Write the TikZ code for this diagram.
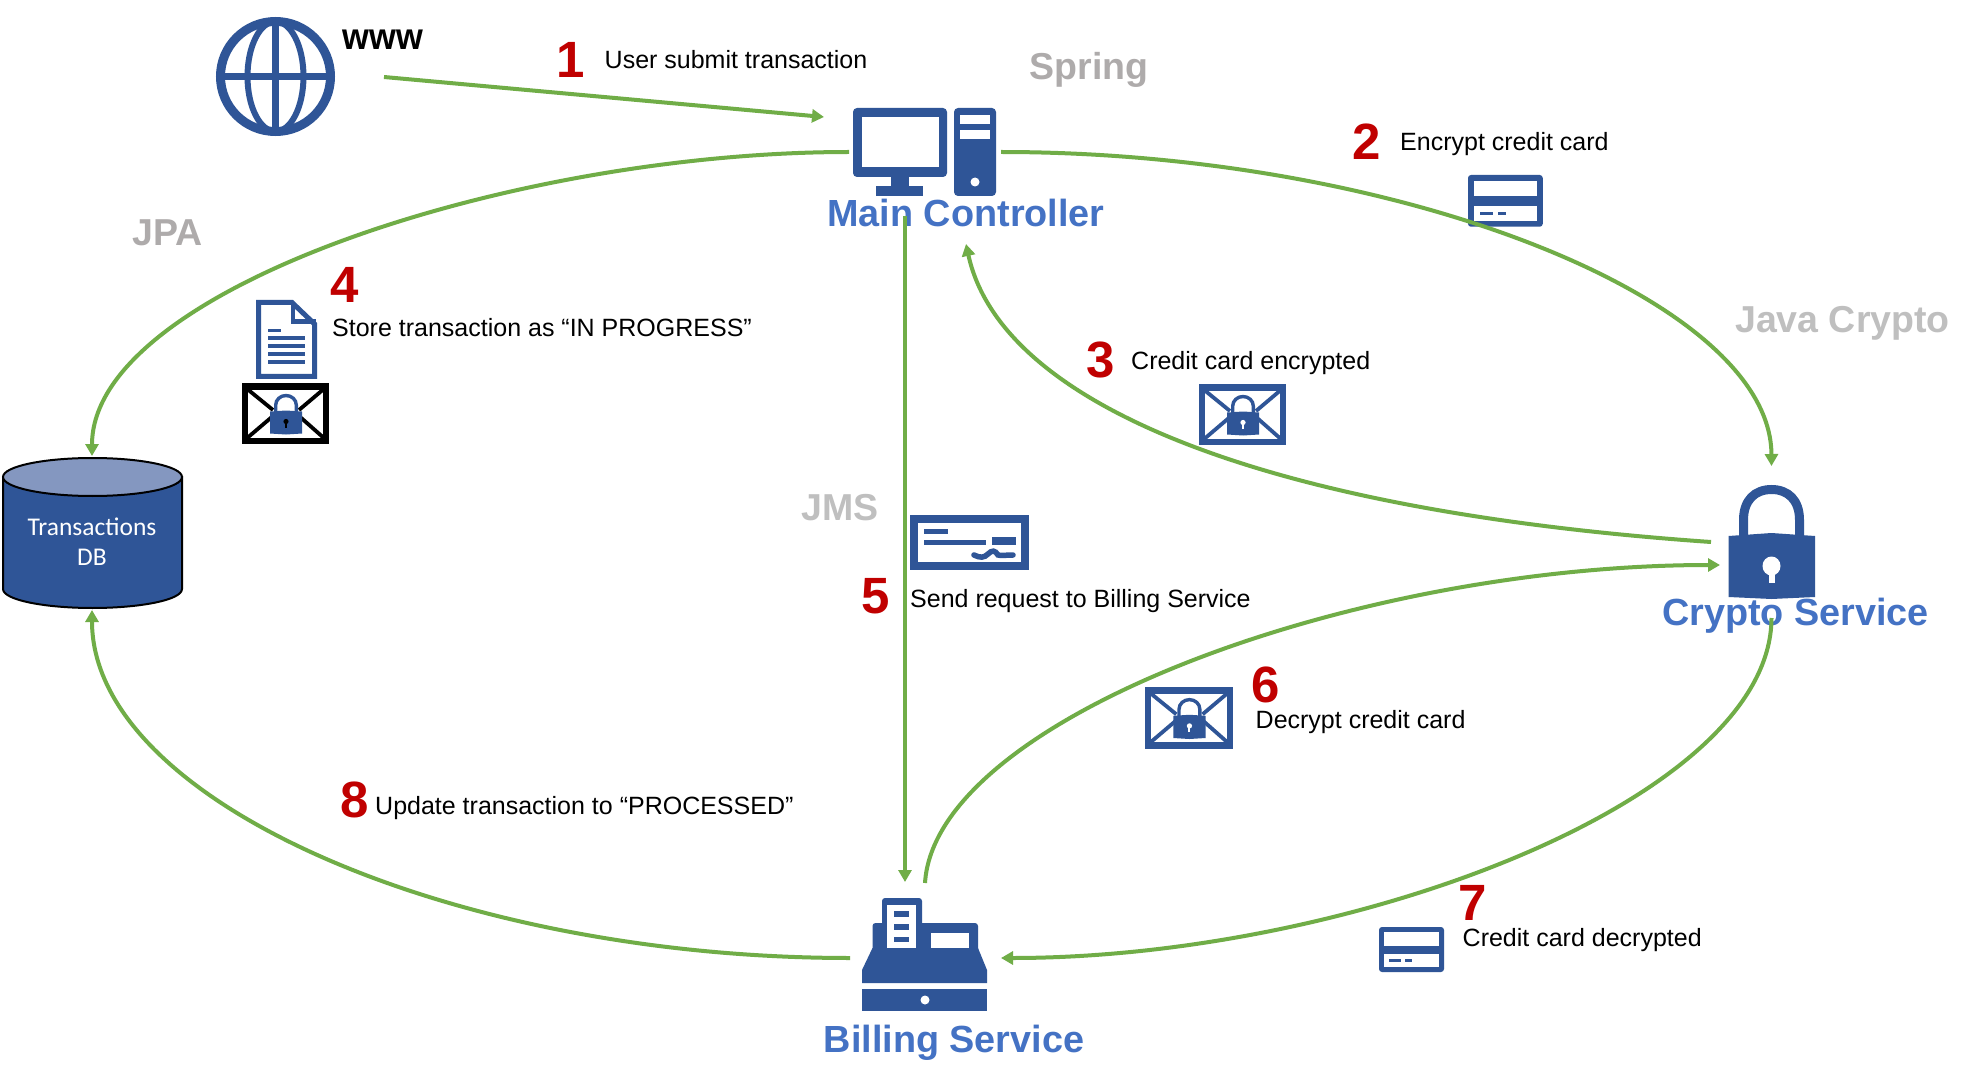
\documentclass[tikz,border=0pt]{standalone}
\usepackage{fontspec}
\setmainfont{Liberation Sans}
\newfontfamily\carl{Carlito}
\usetikzlibrary{arrows.meta}
\definecolor{dblue}{HTML}{2F5597}
\definecolor{tblue}{HTML}{4472C4}
\definecolor{lineg}{HTML}{70AD47}
\definecolor{numred}{HTML}{C00000}
\definecolor{graya}{HTML}{AEABAB}
\definecolor{grayb}{HTML}{BFBFBF}
\definecolor{topblue}{HTML}{8497C0}
\tikzset{
  lbl/.style={anchor=base west,inner sep=0pt,font=\fontsize{25}{30}\selectfont},
  num/.style={anchor=center,inner sep=0pt,text=numred,font=\fontsize{51}{60}\selectfont\bfseries},
  svc/.style={anchor=center,inner sep=0pt,text=tblue,font=\fontsize{37.8}{44}\selectfont\bfseries},
  tech/.style={anchor=center,inner sep=0pt,font=\fontsize{37.5}{44}\selectfont\bfseries},
  conn/.style={draw=lineg,line width=4pt,-{Triangle[length=12pt,width=13pt]}},
  blue/.style={fill=dblue,draw=none},
  white/.style={fill=white,draw=none}
}
% credit card icon: origin at top left, nominal 65 x 45
\newcommand{\cardicon}[3]{%
  \begin{scope}[shift={(#1,#2)},x=#3pt,y=-#3pt]
    \fill[blue,rounded corners=3pt] (0,0) rectangle (65,45);
    \fill[white] (5,5) rectangle (60,18.5);
    \fill[white] (5,27) rectangle (60,40);
    \fill[blue] (10,32) rectangle (22,35);
    \fill[blue] (26,32) rectangle (33,35);
  \end{scope}}
% envelope with padlock: origin at top left, nominal 87 x 61
\newcommand{\envicon}[5]{%
  \begin{scope}[shift={(#1,#2)},x=#3pt,y=-#3pt]
    \fill[#4] (0,0) rectangle (87,61);
    \fill[white] (6,6.5) rectangle (81,54.5);
    \begin{scope}
      \clip (6,6.5) rectangle (81,54.5);
      \draw[#4,line width=3.8pt] (4,5) -- (31,27) (4,56) -- (31,33) (83,5) -- (57,27) (83,56) -- (57,33);
    \end{scope}
    \draw[dblue,line width=3.4pt] (33.7,30) -- (33.7,22) arc[start angle=180,end angle=360,x radius=10.3,y radius=9.5] -- (54.3,30);
    \fill[blue] (28,28.5) -- (44,27.5) -- (60,28.5) -- (60,50.5) -- (44,51.5) -- (28,50.5) -- cycle;
    \fill[#5] (44,38.5) circle[radius=2.6];
    \fill[#5] (43,38.5) rectangle (45,44.5);
  \end{scope}}
\begin{document}
\begin{tikzpicture}[x=1pt,y=-1pt]
\useasboundingbox (0,0) rectangle (1974,1083);
\fill[white] (0,0) rectangle (1974,1083);

% ---- text ----
\node[anchor=center,inner sep=0pt,xscale=.93,font=\fontsize{37}{42}\selectfont\bfseries] (www) at (383,40) {www};
\node[num] (n1) at (571,60) {1};
\node[lbl] (t1) at (604.5,69) {User submit transaction};
\node[tech,text=graya] (spring) at (1089,69.5) {Spring};
\node[tech,text=graya] (jpa) at (167.5,233) {JPA};
\node[tech,text=grayb] (jcrypto) at (1842.5,323) {Java Crypto};
\node[tech,text=grayb] (jms) at (840,508) {JMS};
\node[num] (n2) at (1367,142) {2};
\node[lbl] (t2) at (1400,151) {Encrypt credit card};
\node[num] (n3) at (1101,360) {3};
\node[lbl] (t3) at (1131,370) {Credit card encrypted};
\node[num] (n4) at (345,285) {4};
\node[lbl] (t4) at (332,337) {Store transaction as “IN PROGRESS”};
\node[num] (n5) at (876,596) {5};
\node[lbl] (t5) at (910,607) {Send request to Billing Service};
\node[num] (n6) at (1266,685) {6};
\node[lbl] (t6) at (1255.5,728) {Decrypt credit card};
\node[num] (n7) at (1473,903) {7};
\node[lbl] (t7) at (1462.5,946) {Credit card decrypted};
\node[num] (n8) at (355,800) {8};
\node[lbl] (t8) at (375,814) {Update transaction to “PROCESSED”};
\node[svc] (main) at (966,213) {Main Controller};
\node[svc] (crypto) at (1795.5,616) {Crypto Service};
\node[svc] (billing) at (954,1043) {Billing Service};

% ---- database ----
\filldraw[fill=dblue,draw=black,line width=2pt] (3,477) -- (3,589) .. controls (3,600) and (45,608) .. (92.5,608) .. controls (140,608) and (182,600) .. (182,589) -- (182,477) -- cycle;
\filldraw[fill=topblue,draw=black,line width=2pt] (92.5,477) ellipse[x radius=89.5,y radius=19];
\node[anchor=center,inner sep=0pt,text=white,align=center,font=\carl\fontsize{25.5}{30}\selectfont] (db) at (92,542) {Transactions\\DB};

% ---- connector end points ----
\coordinate (wwwS) at (384,77);
\coordinate (mainI) at (824,117);
\coordinate (mainL) at (849,152);
\coordinate (mainR) at (1001,152);
\coordinate (mainB) at (905,216);
\coordinate (mainA) at (966,244);
\coordinate (dbT) at (92,456);
\coordinate (dbB) at (92,610);
\coordinate (cryT) at (1771.5,466);
\coordinate (cryL) at (1711,542);
\coordinate (cryI) at (1720,565);
\coordinate (cryB) at (1771.5,618);
\coordinate (bilT) at (905,882);
\coordinate (bilS) at (925,883);
\coordinate (bilL) at (850,958);
\coordinate (bilR) at (1001,958);

% ---- card lying under the connector ----
\cardicon{1468}{175}{1.15}

% ---- connectors ----
\draw[conn] (wwwS) -- (mainI);
\draw[conn] (mainL) .. controls (510,152) and (92,290) .. (dbT);
\draw[conn] (mainR) .. controls (1400,152) and (1771,300) .. (cryT);
\draw[conn] (cryL) .. controls (1250,510) and (1000,400) .. (mainA);
\draw[conn] (mainB) -- (bilT);
\draw[conn] (bilS) .. controls (935,720) and (1350,565) .. (cryI);
\draw[conn] (cryB) .. controls (1771,800) and (1350,958) .. (bilR);
\draw[conn] (bilL) .. controls (450,958) and (92,800) .. (dbB);

% ---- globe ----
\draw[dblue,line width=9pt] (275.5,76.5) circle[radius=55];
\draw[dblue,line width=6pt] (275.5,76.5) ellipse[x radius=28,y radius=55];
\draw[dblue,line width=7pt] (220.5,76.5) -- (330.5,76.5) (275.5,21.5) -- (275.5,131.5);

% ---- computer ----
\fill[blue,rounded corners=4pt] (853,108) rectangle (947,177);
\fill[white] (862,117) rectangle (939,167);
\fill[blue] (891,176) rectangle (909,187);
\fill[blue] (876,186) rectangle (923,196);
\fill[blue,rounded corners=4pt] (954,108) rectangle (996,196);
\fill[white] (960,115) rectangle (990,124);
\fill[white] (960,130) rectangle (990,139);
\fill[white] (975,182) circle[radius=4.5];

% ---- padlock ----
\draw[dblue,line width=9pt] (1743.5,540) -- (1743.5,520) .. controls (1743.5,500) and (1755,489.5) .. (1771.5,489.5) .. controls (1788,489.5) and (1799.5,500) .. (1799.5,520) -- (1799.5,540);
\fill[blue] (1728.5,536) -- (1771.5,533) -- (1815,536) -- (1815,597) -- (1771.5,599) -- (1728.5,597) -- cycle;
\fill[white] (1771.5,566) ellipse[x radius=9,y radius=9.5];
\fill[white] (1768.5,570) rectangle (1774.5,583);

% ---- cash register ----
\fill[blue] (862,989) rectangle (987,1011);
\fill[white] (925,1000) ellipse[x radius=4.5,y radius=4.5];
\fill[blue,rounded corners=3pt] (882,898) rectangle (922,940);
\fill[blue,rounded corners=3pt] (872.5,923) rectangle (978,960);
\fill[blue] (872.5,948) -- (978,948) -- (987,970) -- (987,983) -- (862,983) -- (862,970) -- cycle;
\fill[white] (887,905) rectangle (916,948);
\fill[blue] (894,911) rectangle (909,917);
\fill[blue] (894,924) rectangle (909,930);
\fill[blue] (894,937) rectangle (909,942);
\fill[white] (931,933) rectangle (969,948);

% ---- document ----
\filldraw[fill=white,draw=dblue,line width=5pt,line join=miter] (258.5,302.5) -- (292,302.5) -- (314.5,324) -- (314.5,376.5) -- (258.5,376.5) -- cycle;
\draw[dblue,line width=4.5pt] (293,302) -- (293,321.5) -- (316,321.5);
\fill[blue] (268,329) rectangle (281,332.5);
\fill[blue] (268,336.5) rectangle (305,340);
\fill[blue] (268,344.5) rectangle (305,348);
\fill[blue] (268,352.5) rectangle (305,356);
\fill[blue] (268,360.5) rectangle (305,364);

% ---- cheque ----
\fill[blue] (910,515) rectangle (1029,570);
\fill[white] (918,523) rectangle (1021,562);
\fill[blue] (924,529) rectangle (948,534);
\fill[blue] (924,540) rectangle (986,545);
\fill[blue] (992,537) rectangle (1016,545);
\draw[dblue,line width=5.5pt,line cap=round] (974,555) .. controls (980,558) and (984,558) .. (988,554) .. controls (992,550) and (995,550) .. (998,555) .. controls (1001,556) and (1006,555) .. (1013,555);

% ---- other card and envelopes ----
\cardicon{1379}{927}{1}
\envicon{1199}{384}{1}{dblue}{white}
\envicon{1145}{687}{1.01}{dblue}{white}
\envicon{242}{383}{1}{black}{black}
\end{tikzpicture}
\end{document}
